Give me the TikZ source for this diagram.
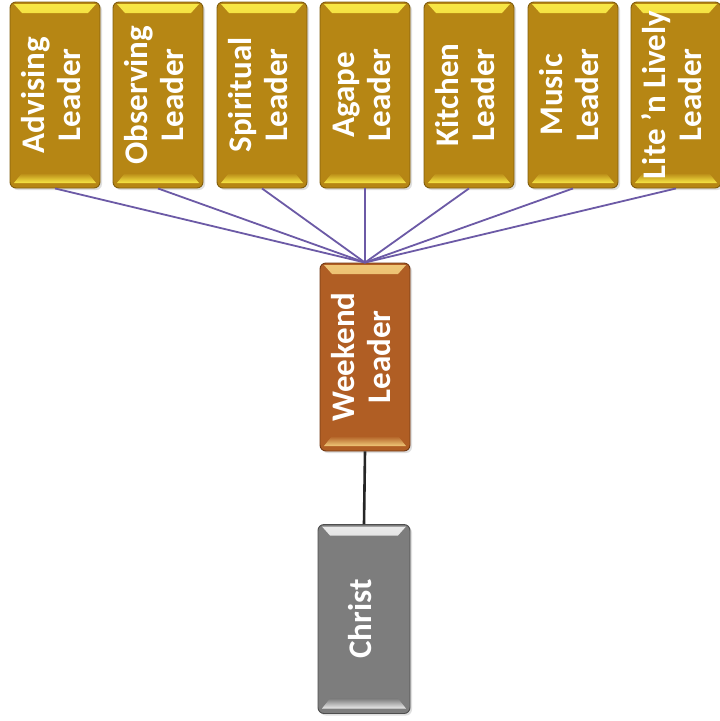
\documentclass[tikz,border=0pt]{standalone}
\usepackage{graphicx}
\usepackage{fontspec}
\setmainfont{Carlito}
\usetikzlibrary{shadows}
\definecolor{goldbase}{RGB}{182,134,20}
\definecolor{goldhi}{RGB}{248,232,70}
\definecolor{goldedge}{RGB}{130,94,12}
\definecolor{wkbase}{RGB}{176,94,36}
\definecolor{wkhi}{RGB}{240,200,120}
\definecolor{wkedge}{RGB}{115,58,20}
\definecolor{grbase}{RGB}{125,125,125}
\definecolor{grhi}{RGB}{235,235,235}
\definecolor{gredge}{RGB}{78,78,78}
\definecolor{linkpurple}{RGB}{108,90,166}
\newcommand{\vtext}[1]{\rotatebox{90}{\begin{tabular}{@{}c@{}}#1\end{tabular}}}
\tikzset{
  bevel/.style n args={3}{
    fill=#1, draw=#2, line width=0.9pt, rounded corners=6pt,
    drop shadow={shadow xshift=2pt, shadow yshift=-2pt, opacity=0.25},
    path picture={
      \fill[top color=#3, bottom color=#1, sharp corners]
        ([shift={(4pt,-2pt)}]path picture bounding box.north west) --
        ([shift={(-4pt,-2pt)}]path picture bounding box.north east) --
        ([shift={(-12pt,-11pt)}]path picture bounding box.north east) --
        ([shift={(12pt,-11pt)}]path picture bounding box.north west) -- cycle;
      \fill[top color=#1, bottom color=#3, sharp corners]
        ([shift={(12pt,15pt)}]path picture bounding box.south west) --
        ([shift={(-12pt,15pt)}]path picture bounding box.south east) --
        ([shift={(-4pt,5pt)}]path picture bounding box.south east) --
        ([shift={(4pt,5pt)}]path picture bounding box.south west) -- cycle;
    }},
  boxbase/.style={minimum width=90pt, minimum height=186pt, inner sep=0pt,
    text=white, font=\bfseries\fontsize{33}{36}\selectfont},
  goldbox/.style={boxbase, bevel={goldbase}{goldedge}{goldhi}},
  wkbox/.style={boxbase, minimum height=188pt, bevel={wkbase}{wkedge}{wkhi}},
  greybox/.style={boxbase, minimum width=92pt, minimum height=189pt, bevel={grbase}{gredge}{grhi}},
  link/.style={draw=linkpurple, line width=1.8pt},
  baselink/.style={draw=black!85, line width=2.6pt}
}
\begin{document}
\begin{tikzpicture}[x=1pt,y=-1pt]
\useasboundingbox[fill=white] (0,0) rectangle (720,721);
\node[goldbox] (adv) at (55,95) {\vtext{Advising\\Leader}};
\node[goldbox] (obs) at (158,95) {\vtext{Observing\\Leader}};
\node[goldbox] (spi) at (262,95) {\vtext{Spiritual\\Leader}};
\node[goldbox] (aga) at (365,95) {\vtext{Agape\\Leader}};
\node[goldbox] (kit) at (469,95) {\vtext{Kitchen\\Leader}};
\node[goldbox] (mus) at (573,95) {\vtext{Music\\Leader}};
\node[goldbox] (lit) at (676,95) {\vtext{Lite ’n Lively\\Leader}};
\node[wkbox] (wk) at (365,357) {\vtext{Weekend\\Leader}};
\node[greybox] (chr) at (364,619) {\vtext{Christ}};
\foreach \n in {adv,obs,spi,aga,kit,mus,lit}
  \draw[link] (\n.south) -- (wk.north);
\draw[baselink] (wk.south) -- (chr.north);
\end{tikzpicture}
\end{document}
